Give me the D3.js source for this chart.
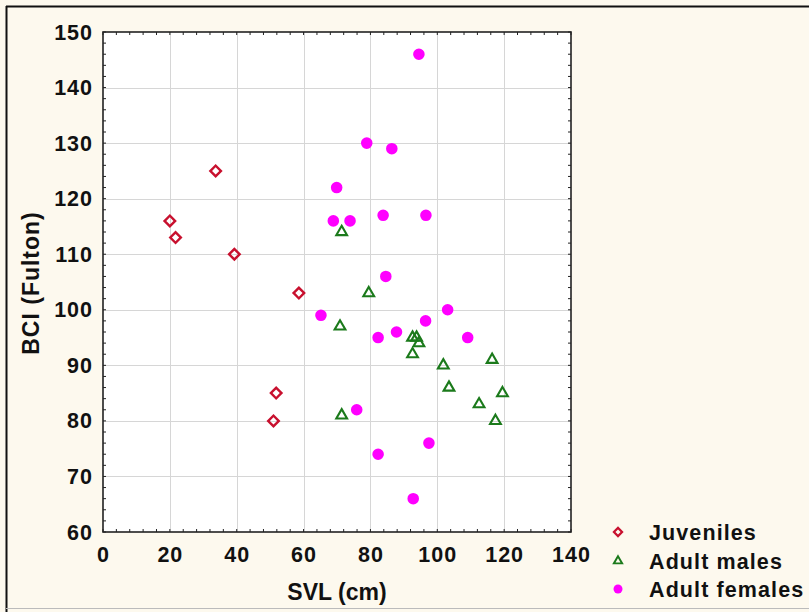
<!DOCTYPE html>
<html>
<head>
<meta charset="utf-8">
<script src="https://cdn.jsdelivr.net/npm/d3@7"></script>
<style>
  html, body { margin: 0; padding: 0; background: #fdf9ee; }
  svg { display: block; }
  text { font-family: "Liberation Sans", Arial, sans-serif; font-weight: bold; fill: #111; }
</style>
</head>
<body>
<svg id="chart" width="809" height="612"></svg>
<script>
// Snout-vent length (cm) and Fulton body condition index per group
const juvenilesSVL = [20, 21.7, 33.7, 39.3, 58.6, 51.8, 51.0];
const juvenilesBCI = [116, 113, 125, 110, 103, 85, 80];

const malesSVL = [71.4, 79.5, 70.9, 92.6, 93.8, 94.5, 92.6, 101.8, 116.4, 103.5, 119.5, 112.5, 117.4, 71.4];
const malesBCI = [114, 103, 97, 95, 95, 94, 92, 90, 91, 86, 85, 83, 80, 81];

const femalesSVL = [94.5, 78.9, 86.4, 69.9, 68.9, 73.9, 83.8, 96.6, 84.6, 65.2, 103.1, 96.5, 87.8, 82.3, 109.1, 75.9, 97.5, 82.3, 92.8];
const femalesBCI = [146, 130, 129, 122, 116, 116, 117, 117, 106, 99, 100, 98, 96, 95, 95, 82, 76, 74, 66];

const xTicks = [0, 20, 40, 60, 80, 100, 120, 140];
const yTicks = [60, 70, 80, 90, 100, 110, 120, 130, 140, 150];
const groupNames = ["Juveniles", "Adult males", "Adult females"];
const xTitle = "SVL (cm)";
const yTitle = "BCI (Fulton)";

const svg = d3.select("#chart");
const W = 809, H = 612;
const plot = { left: 103, right: 571, top: 32, bottom: 532 };

const x = d3.scaleLinear().domain([0, 140]).range([plot.left, plot.right]);
const y = d3.scaleLinear().domain([60, 150]).range([plot.bottom, plot.top]);

// page background and outer frame
svg.append("rect").attr("width", W).attr("height", H).attr("fill", "#fdf9ee");
svg.append("line").attr("x1", 6).attr("x2", W).attr("y1", 6.5).attr("y2", 6.5)
  .attr("stroke", "#111").attr("stroke-width", 2);
svg.append("line").attr("x1", 6.5).attr("x2", 6.5).attr("y1", 6).attr("y2", H)
  .attr("stroke", "#111").attr("stroke-width", 2);
svg.append("line").attr("x1", 6).attr("x2", W).attr("y1", 608.5).attr("y2", 608.5)
  .attr("stroke", "#bbb").attr("stroke-width", 1);

// plot area
svg.append("rect")
  .attr("x", plot.left).attr("y", plot.top)
  .attr("width", plot.right - plot.left).attr("height", plot.bottom - plot.top)
  .attr("fill", "#fff");

// grid lines
const grid = svg.append("g").attr("stroke", "#d6d6d6").attr("stroke-width", 1);
grid.selectAll(".gx").data(xTicks.slice(1, -1)).join("line")
  .attr("x1", d => Math.round(x(d)) + 0.5).attr("x2", d => Math.round(x(d)) + 0.5)
  .attr("y1", plot.top).attr("y2", plot.bottom);
grid.selectAll(".gy").data(yTicks.slice(1, -1)).join("line")
  .attr("y1", d => Math.round(y(d)) + 0.5).attr("y2", d => Math.round(y(d)) + 0.5)
  .attr("x1", plot.left).attr("x2", plot.right);

// inward minor ticks on all four sides
const xMinor = d3.range(0, 140.01, 4);
const yMinor = d3.range(60, 150.01, 2);
const ticks = svg.append("g").attr("stroke", "#222").attr("stroke-width", 1);
ticks.selectAll(".tb").data(xMinor).join("line")
  .attr("x1", d => x(d)).attr("x2", d => x(d)).attr("y1", plot.bottom).attr("y2", plot.bottom - 3);
ticks.selectAll(".tt").data(xMinor).join("line")
  .attr("x1", d => x(d)).attr("x2", d => x(d)).attr("y1", plot.top).attr("y2", plot.top + 3);
ticks.selectAll(".tl").data(yMinor).join("line")
  .attr("y1", d => y(d)).attr("y2", d => y(d)).attr("x1", plot.left).attr("x2", plot.left + 3);
ticks.selectAll(".tr").data(yMinor).join("line")
  .attr("y1", d => y(d)).attr("y2", d => y(d)).attr("x1", plot.right).attr("x2", plot.right - 3);

// frame of the plot
svg.append("rect")
  .attr("x", plot.left).attr("y", plot.top)
  .attr("width", plot.right - plot.left).attr("height", plot.bottom - plot.top)
  .attr("fill", "none").attr("stroke", "#222").attr("stroke-width", 1.6);

// tick labels
svg.append("g").selectAll("text").data(xTicks).join("text")
  .attr("x", d => x(d) + 0.5).attr("y", 562)
  .attr("text-anchor", "middle").attr("font-size", 21.5).attr("letter-spacing", 1)
  .text(d => d);
svg.append("g").selectAll("text").data(yTicks).join("text")
  .attr("x", 93).attr("y", d => y(d) + 7.5)
  .attr("text-anchor", "end").attr("font-size", 21.5).attr("letter-spacing", 1)
  .text(d => d);

// axis titles
svg.append("text").attr("x", (plot.left + plot.right) / 2).attr("y", 600)
  .attr("text-anchor", "middle").attr("font-size", 23).text(xTitle);
svg.append("text").attr("transform", "translate(39,283) rotate(-90)")
  .attr("text-anchor", "middle").attr("font-size", 23).attr("letter-spacing", 1).text(yTitle);

// marker styles
const styles = [
  { type: d3.symbolSquare, size: 56, rot: 45, fill: "none", stroke: "#c8102e", sw: 2.4 },
  { type: d3.symbolTriangle, size: 50, rot: 0, fill: "none", stroke: "#1b7a1b", sw: 2.1 },
  { type: d3.symbolCircle, size: 105, rot: 0, fill: "#ff00ff", stroke: "none", sw: 0 }
];
const series = [
  d3.zip(juvenilesSVL, juvenilesBCI),
  d3.zip(malesSVL, malesBCI),
  d3.zip(femalesSVL, femalesBCI)
];

series.forEach((pts, i) => {
  const s = styles[i];
  svg.append("g").selectAll("path").data(pts).join("path")
    .attr("d", d3.symbol().type(s.type).size(s.size))
    .attr("transform", d => `translate(${x(d[0])},${y(d[1])}) rotate(${s.rot})`)
    .attr("fill", s.fill).attr("stroke", s.stroke).attr("stroke-width", s.sw);
});

// legend
const legendY = [532, 561, 589];
const legend = svg.append("g");
groupNames.forEach((name, i) => {
  const s = styles[i];
  legend.append("path")
    .attr("d", d3.symbol().type(s.type).size(s.size * 0.6))
    .attr("transform", `translate(618,${legendY[i]}) rotate(${s.rot})`)
    .attr("fill", s.fill).attr("stroke", s.stroke).attr("stroke-width", s.sw * 0.9);
  legend.append("text").attr("x", 649).attr("y", legendY[i] + 7.5)
    .attr("font-size", 21.5).attr("letter-spacing", 1.1).text(name);
});
</script>
</body>
</html>
